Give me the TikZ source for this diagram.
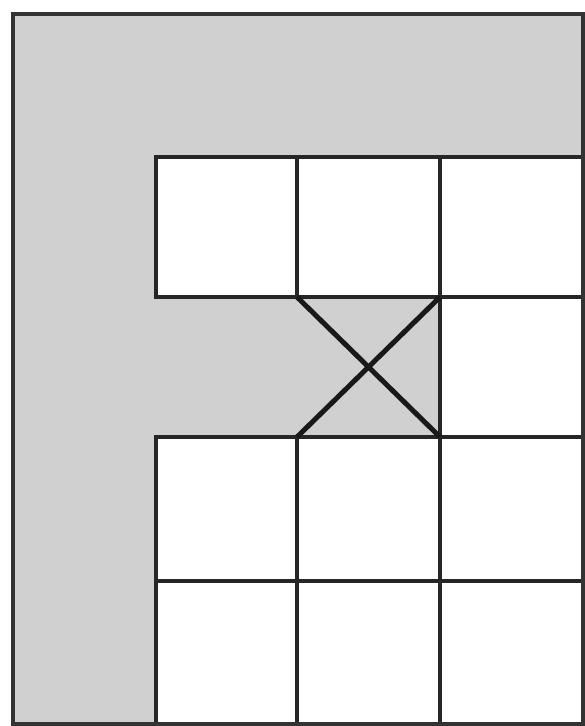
\documentclass[tikz,border=0pt]{standalone}
\begin{document}
\begin{tikzpicture}[x=1pt,y=-1pt,
  cellbox/.style={draw=black!85,line width=3.4pt,fill=white,anchor=north west,inner sep=0pt,outer sep=0pt,minimum width=#1}]
\definecolor{bggray}{RGB}{208,208,208}
\useasboundingbox (0,0) rectangle (585,726);
\fill[white] (0,0) rectangle (585,726);
% gray frame region
\node[draw=black!80,line width=4pt,fill=bggray,anchor=north west,inner sep=0pt,outer sep=0pt,minimum width=570pt,minimum height=710pt] (frame) at (13,14) {};
% row 1
\node[cellbox=141pt,minimum height=140pt] (c11) at (156,157) {};
\node[cellbox=143pt,minimum height=140pt] (c12) at (297,157) {};
\node[cellbox=143pt,minimum height=140pt] (c13) at (440,157) {};
% row 2 (gray cell with X is unbordered on the left)
\node[anchor=north west,inner sep=0pt,outer sep=0pt,minimum width=143pt,minimum height=140pt] (c22) at (297,297) {};
\node[cellbox=143pt,minimum height=140pt] (c23) at (440,297) {};
% row 3
\node[cellbox=141pt,minimum height=144pt] (c31) at (156,437) {};
\node[cellbox=143pt,minimum height=144pt] (c32) at (297,437) {};
\node[cellbox=143pt,minimum height=144pt] (c33) at (440,437) {};
% row 4
\node[cellbox=141pt,minimum height=143pt] (c41) at (156,581) {};
\node[cellbox=143pt,minimum height=143pt] (c42) at (297,581) {};
\node[cellbox=143pt,minimum height=143pt] (c43) at (440,581) {};
% X in gray cell
\draw[line width=5pt,black!90] (c22.north west) -- (c22.south east);
\draw[line width=5pt,black!90] (c22.south west) -- (c22.north east);
% redraw outer frame on top
\draw[draw=black!80,line width=4pt] (frame.north west) rectangle (frame.south east);
\end{tikzpicture}
\end{document}
